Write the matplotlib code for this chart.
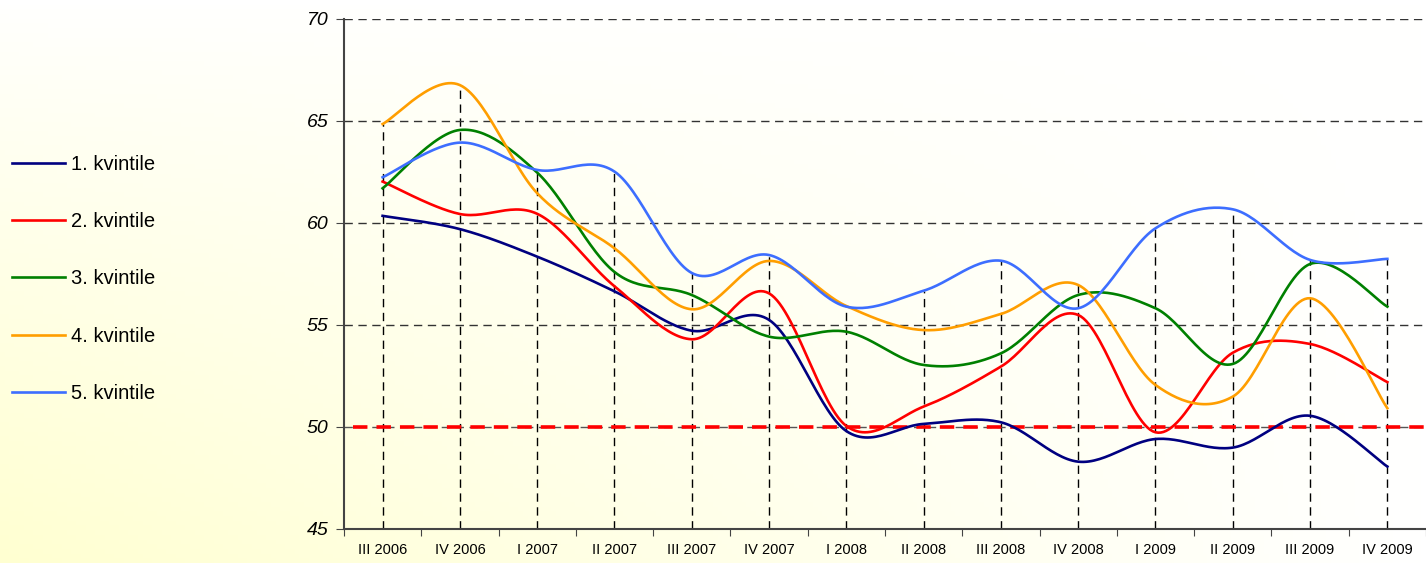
import numpy as np
import matplotlib
matplotlib.use('Agg')
import matplotlib.pyplot as plt

plt.rcParams['font.family'] = ['Liberation Sans', 'DejaVu Sans']

quarters = ['III 2006', 'IV 2006', 'I 2007', 'II 2007', 'III 2007', 'IV 2007', 'I 2008',
            'II 2008', 'III 2008', 'IV 2008', 'I 2009', 'II 2009', 'III 2009', 'IV 2009']

q1 = [60.35, 59.7, 58.35, 56.65, 54.72, 55.25, 49.8, 50.15, 50.23, 48.3, 49.41, 48.99, 50.55, 48.06]
q2 = [62.03, 60.44, 60.45, 56.9, 54.3, 56.55, 50.05, 51.0, 52.96, 55.49, 49.74, 53.64, 54.07, 52.2]
q3 = [61.7, 64.56, 62.47, 57.6, 56.47, 54.43, 54.67, 53.04, 53.61, 56.47, 55.82, 53.09, 57.99, 55.9]
q4 = [64.85, 66.76, 61.46, 58.76, 55.77, 58.14, 55.93, 54.75, 55.54, 56.96, 52.06, 51.49, 56.31, 50.92]
q5 = [62.24, 63.94, 62.6, 62.52, 57.55, 58.43, 55.9, 56.68, 58.15, 55.82, 59.74, 60.67, 58.19, 58.24]

series = [q1, q2, q3, q4, q5]
labels = ['1. kvintile', '2. kvintile', '3. kvintile', '4. kvintile', '5. kvintile']
colors = ['#000080', '#FF0000', '#008000', '#FF9E00', '#3D6EFF']
threshold = 50


def smooth(xs, ys, n=30):
    # bezier smoothing through the points (catmull-rom style, like excel)
    p = np.column_stack([xs, ys]).astype(float)
    out = []
    for i in range(len(p) - 1):
        p0 = p[i - 1] if i > 0 else p[i]
        p1 = p[i]
        p2 = p[i + 1]
        p3 = p[i + 2] if i + 2 < len(p) else p[i + 1]
        c1 = p1 + (p2 - p0) / 6.0
        c2 = p2 - (p3 - p1) / 6.0
        t = np.linspace(0, 1, n)[:, None]
        seg = ((1 - t) ** 3) * p1 + 3 * ((1 - t) ** 2) * t * c1 + 3 * (1 - t) * t ** 2 * c2 + t ** 3 * p2
        out.append(seg if i == 0 else seg[1:])
    out = np.vstack(out)
    return out[:, 0], out[:, 1]


fig = plt.figure(figsize=(14.26, 5.63), dpi=100)

# background gradient (white top / right -> pale yellow bottom-left)
bg = fig.add_axes([0, 0, 1, 1], zorder=-10)
gx, gy = np.meshgrid(np.linspace(0, 1, 300), np.linspace(0, 1, 120))
t = np.clip((1 - gy) ** 0.85 * (1 - gx) ** 1.0, 0, 1)
white = np.array([1.0, 1.0, 1.0])
yellow = np.array([1.0, 1.0, 0.82])
img = white[None, None, :] * (1 - t[..., None]) + yellow[None, None, :] * t[..., None]
bg.imshow(img, extent=[0, 1, 0, 1], aspect='auto', origin='lower')
bg.axis('off')

ax = fig.add_axes([0.2412, 0.0604, 0.7588, 0.9059])
ax.patch.set_alpha(0)

x = np.arange(len(quarters))

# drop lines from highest value
tops = np.max(np.array(series), axis=0)
for xi, top in zip(x, tops):
    ax.plot([xi, xi], [45, top], color='black', lw=1, ls=(0, (6, 4)), zorder=1)

for yv in [55, 60, 65, 70]:
    ax.axhline(yv, color='#333333', lw=1, ls=(0, (6, 4)), zorder=1)
ax.axhline(50, color='#555555', lw=1, ls=(0, (6, 4)), zorder=1)
ax.axhline(threshold, xmin=0.008, color='#FF0000', lw=2.6, ls=(0, (4, 2.5)), zorder=2)

for s, lab, c in zip(series, labels, colors):
    sx, sy = smooth(x, s)
    ax.plot(sx, sy, color=c, lw=1.9, label=lab, zorder=3)

ax.set_xlim(-0.5, len(quarters) - 0.5)
ax.set_ylim(45, 70)
ax.set_yticks([45, 50, 55, 60, 65, 70])
ax.set_yticklabels(['45', '50', '55', '60', '65', '70'], fontsize=14, style='italic')
ax.set_xticks(np.arange(-0.5, len(quarters), 1))
ax.set_xticklabels([])
ax.set_xticks(x, minor=True)
ax.set_xticklabels(quarters, minor=True, fontsize=10.5)
ax.tick_params(axis='x', which='minor', length=0, pad=10)
ax.tick_params(axis='x', which='major', length=5, color='#444444')
ax.tick_params(axis='y', length=6, color='#444444', pad=5)

for side in ['top', 'right']:
    ax.spines[side].set_visible(False)
for side in ['left', 'bottom']:
    ax.spines[side].set_color('#444444')
    ax.spines[side].set_linewidth(1.5)

fig.legend(loc='upper left', bbox_to_anchor=(-0.004, 0.757), frameon=False, fontsize=14.5,
           handlelength=2.6, handletextpad=0.3, labelspacing=1.9)

fig.savefig('out.png', dpi=100)
